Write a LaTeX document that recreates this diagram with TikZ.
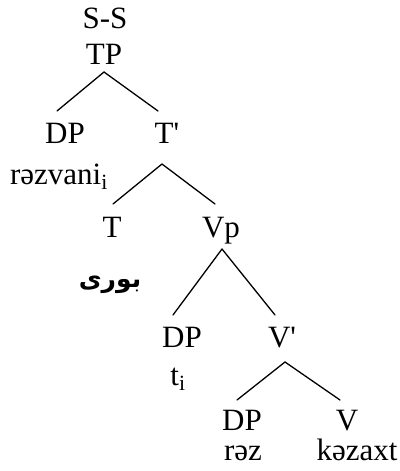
\documentclass[tikz,border=0pt]{standalone}
\usepackage{fontspec}
\setmainfont{Liberation Serif}
\newfontfamily\arabicfont[Script=Arabic]{DejaVu Sans}
\TeXXeTstate=1
\usetikzlibrary{calc}
\tikzset{
  lab/.style={anchor=base, inner sep=0pt, font=\fontsize{31}{36}\selectfont},
  arab/.style={anchor=base, inner sep=0pt, font=\arabicfont\bfseries\fontsize{25}{30}\selectfont},
  branch/.style={line width=1.3pt, line cap=round}
}
\begin{document}
\begin{tikzpicture}[x=1pt,y=-1pt]
\useasboundingbox (0,0) rectangle (399,471);
\node[lab] (ss) at (105,28) {S-S};
\node[lab] (tp) at (104,64) {TP};
\node[lab] (dp1) at (65,143) {DP};
\node[lab] (tb) at (167,143) {T\textquotesingle};
\node[lab] (rv) at (59,184) {rəzvani\textsubscript{i}};
\node[lab] (t) at (112,237) {T};
\node[lab] (vp) at (221,237) {Vp};
\node[arab] (bori) at (110,287) {\beginR بوری\endR};
\node[lab] (dp2) at (182,347) {DP};
\node[lab] (vb) at (282,347) {V\textquotesingle};
\node[lab] (ti) at (178,385) {t\textsubscript{i}};
\node[lab] (dp3) at (242,430) {DP};
\node[lab] (v) at (347,430) {V};
\node[lab] (raz) at (243,460) {rəz};
\node[lab] (kz) at (357,460) {kəzaxt};
% branches
\draw[branch] ($(tp.base)+(0,8)$) -- ($(dp1.base)+(-8,-32)$);
\draw[branch] ($(tp.base)+(0,8)$) -- ($(tb.base)+(-9,-32)$);
\draw[branch] ($(tb.base)+(-5,21)$) -- ($(t.base)+(1,-33)$);
\draw[branch] ($(tb.base)+(-5,21)$) -- ($(vp.base)+(-6,-33)$);
\draw[branch] ($(vp.base)+(1,12)$) -- ($(dp2.base)+(-9,-32)$);
\draw[branch] ($(vp.base)+(1,12)$) -- ($(vb.base)+(-7,-32)$);
\draw[branch] ($(vb.base)+(3,15)$) -- ($(dp3.base)+(-5,-30)$);
\draw[branch] ($(vb.base)+(3,15)$) -- ($(v.base)+(-7,-30)$);
\end{tikzpicture}
\end{document}
